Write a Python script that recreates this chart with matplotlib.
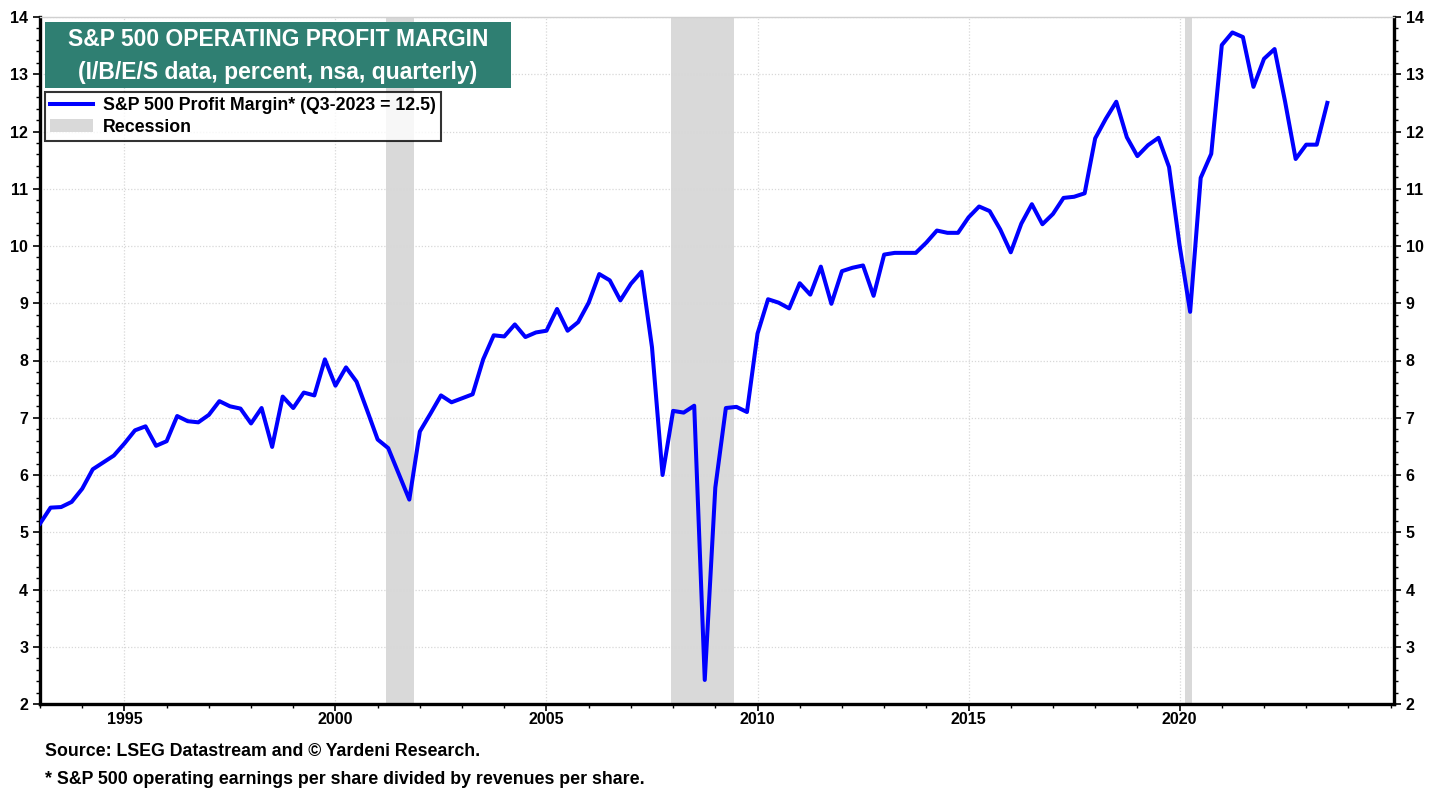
import numpy as np
import matplotlib
matplotlib.use("Agg")
import matplotlib.pyplot as plt
from matplotlib.ticker import MultipleLocator, FixedLocator
from matplotlib.patches import Rectangle, Patch
from matplotlib.lines import Line2D

plt.rcParams['font.family'] = ['Liberation Sans', 'DejaVu Sans']
plt.rcParams['font.weight'] = 'bold'

# Quarterly S&P 500 operating profit margin, Q1-1993 .. Q3-2023
start_year = 1993.0
margin = [
    5.15, 5.43, 5.44, 5.53,    # 1993
    5.76, 6.10, 6.22, 6.34,    # 1994
    6.55, 6.78, 6.85, 6.51,    # 1995
    6.59, 7.03, 6.94, 6.92,    # 1996
    7.05, 7.29, 7.20, 7.16,    # 1997
    6.90, 7.17, 6.49, 7.37,    # 1998
    7.17, 7.44, 7.39, 8.02,    # 1999
    7.56, 7.88, 7.63, 7.13,    # 2000
    6.62, 6.47, 6.02, 5.57,    # 2001
    6.76, 7.07, 7.39, 7.27,    # 2002
    7.34, 7.41, 8.02, 8.44,    # 2003
    8.42, 8.63, 8.41, 8.49,    # 2004
    8.52, 8.90, 8.52, 8.67,    # 2005
    9.01, 9.51, 9.40, 9.05,    # 2006
    9.34, 9.55, 8.23, 6.00,    # 2007
    7.12, 7.09, 7.21, 2.42,    # 2008
    5.78, 7.17, 7.19, 7.10,    # 2009
    8.47, 9.07, 9.01, 8.91,    # 2010
    9.35, 9.15, 9.64, 8.99,    # 2011
    9.56, 9.62, 9.66, 9.13,    # 2012
    9.85, 9.88, 9.88, 9.88,    # 2013
    10.06, 10.27, 10.23, 10.23,  # 2014
    10.50, 10.69, 10.61, 10.29,  # 2015
    9.89, 10.39, 10.73, 10.38,   # 2016
    10.56, 10.84, 10.86, 10.92,  # 2017
    11.88, 12.22, 12.52, 11.90,  # 2018
    11.57, 11.76, 11.89, 11.38,  # 2019
    10.01, 8.85, 11.19, 11.61,   # 2020
    13.51, 13.73, 13.65, 12.78,  # 2021
    13.27, 13.44, 12.52, 11.52,  # 2022
    11.77, 11.77, 12.50,         # 2023
]
dates = start_year + np.arange(len(margin)) * 0.25

recessions = [(2001.2, 2001.85), (2007.95, 2009.45), (2020.12, 2020.3)]
year_ticks = [1995, 2000, 2005, 2010, 2015, 2020]

fig = plt.figure(figsize=(14.4, 7.9), dpi=100)
ax = fig.add_axes([40 / 1440, 86 / 790, 1354 / 1440, 687 / 790])

for r0, r1 in recessions:
    ax.axvspan(r0, r1, color='#d9d9d9', lw=0, zorder=1)

ax.plot(dates, margin, color='#0000ff', lw=2.9, zorder=3)

ax.set_xlim(1993.0, 2025.08)
ax.set_ylim(2, 14)

ax.xaxis.set_major_locator(FixedLocator(year_ticks))
ax.xaxis.set_minor_locator(MultipleLocator(1))
ax.yaxis.set_major_locator(MultipleLocator(1))
ax.yaxis.set_minor_locator(MultipleLocator(0.2))
ax.set_xticklabels([str(y) for y in year_ticks])

ax.grid(True, which='major', color='#d8d8d8', linestyle=(0, (1, 1.5)), lw=0.9, zorder=0)

ax.tick_params(axis='both', which='major', direction='out', length=5, width=1.2,
               labelsize=11.5, color='black')
ax.tick_params(axis='both', which='minor', direction='out', length=3, width=1.0, color='black')
ax.tick_params(axis='y', which='both', left=True, right=True, labelleft=True, labelright=True)
ax.tick_params(axis='x', which='major', pad=1)
for lbl in ax.get_xticklabels() + ax.get_yticklabels():
    lbl.set_fontweight('bold')

for side in ['left', 'right', 'bottom']:
    ax.spines[side].set_linewidth(2.4)
    ax.spines[side].set_color('black')
ax.spines['top'].set_color('#d0d0d0')
ax.spines['top'].set_linewidth(1.0)

# Title box
ax.add_patch(Rectangle((45 / 1440, 702 / 790), 466 / 1440, 66 / 790, transform=fig.transFigure,
                       facecolor='#2f7f72', edgecolor='none', zorder=5))
fig.text(278 / 1440, 750 / 790, 'S&P 500 OPERATING PROFIT MARGIN', color='white',
         fontsize=16.5, fontweight='bold', ha='center', va='center', zorder=6)
fig.text(278 / 1440, 718 / 790, '(I/B/E/S data, percent, nsa, quarterly)', color='white',
         fontsize=16.5, fontweight='bold', ha='center', va='center', zorder=6)

handles = [Line2D([0], [0], color='#0000ff', lw=2.9),
           Patch(facecolor='#d9d9d9', edgecolor='none')]
labels = ['S&P 500 Profit Margin* (Q3-2023 = 12.5)', 'Recession']
leg = ax.legend(handles, labels, loc='upper left', bbox_to_anchor=(45 / 1440, 698 / 790),
                bbox_transform=fig.transFigure, frameon=True, fancybox=False,
                prop={'weight': 'bold', 'size': 12.8}, borderpad=0.3, labelspacing=0.25,
                handlelength=2.4, handletextpad=0.55, borderaxespad=0)
leg.get_frame().set_edgecolor('black')
leg.get_frame().set_linewidth(1.5)
leg.set_zorder(6)

fig.text(45 / 1440, 38 / 790, 'Source: LSEG Datastream and \u00a9 Yardeni Research.',
         fontsize=12.8, fontweight='bold', ha='left', va='center')
fig.text(45 / 1440, 11 / 790, '* S&P 500 operating earnings per share divided by revenues per share.',
         fontsize=12.8, fontweight='bold', ha='left', va='center')

fig.savefig('out.png', dpi=100)
